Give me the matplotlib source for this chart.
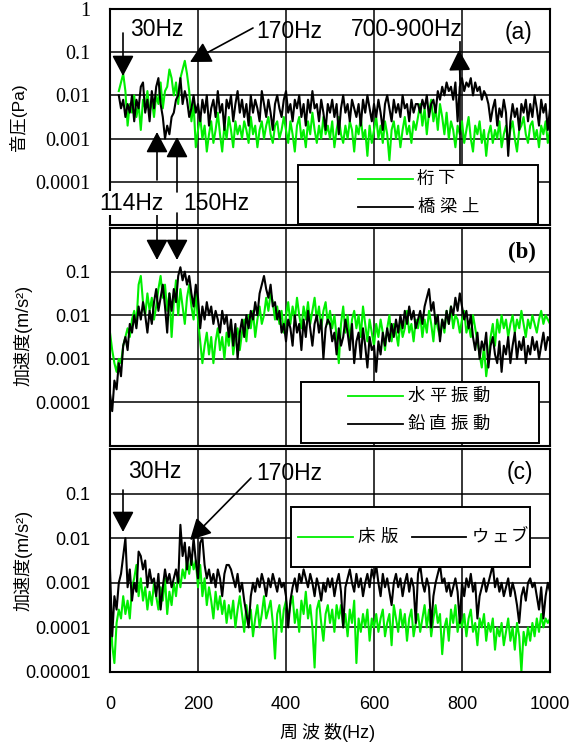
import numpy as np
import matplotlib
matplotlib.use('Agg')
import matplotlib.pyplot as plt
from matplotlib.patches import Rectangle
from matplotlib.lines import Line2D
from matplotlib.text import Annotation
from matplotlib.ticker import NullLocator

plt.rcParams['font.family'] = ['Liberation Sans', 'Noto Sans CJK JP', 'DejaVu Sans']

nan = np.nan
freq = np.arange(0, 1001, 5)

# spectra as log10 values in tenths of a decade (-25 -> 10**-2.5), one every 5 Hz
# (a) sound pressure
a_green = [nan, nan, nan, nan, -19, -17, -15, -19, -27, -22, -24, -20, -25, -22, -28, -21, -23, -19, -24, -21,
           -25, -20, -22, -17, -23, -19, -18, -14, -16, -20, -17, -22, -16, -14, -12, -15, -19, -26, -22, -32,
           -28, -25, -30, -27, -33, -29, -26, -31, -28, -24, -29, -33, -27, -30, -25, -28, -32, -26, -29, -27,
           -30, -26, -28, -31, -25, -29, -27, -32, -28, -26, -30, -27, -25, -29, -31, -27, -26, -30, -28, -25,
           -28, -31, -26, -29, -33, -27, -25, -30, -28, -32, -26, -29, -24, -28, -31, -27, -30, -25, -29, -27,
           -30, -26, -32, -28, -25, -29, -31, -27, -30, -26, -28, -33, -27, -29, -25, -30, -28, -34, -27, -31,
           -28, -25, -30, -27, -31, -26, -29, -35, -28, -26, -30, -27, -32, -28, -25, -29, -27, -31, -26, -28,
           -25, -22, -27, -23, -29, -24, -21, -26, -23, -28, -22, -25, -29, -24, -30, -26, -28, -32, -27, -29,
           -26, -31, -28, -25, -30, -33, -27, -29, -26, -31, -28, -34, -29, -27, -31, -28, -30, -26, -32, -29,
           -27, -31, -28, -26, -30, -33, -28, -27, -25, -29, -31, -27, -26, -30, -28, -32, -27, -29, -26, -31,
           -28]
a_black = [nan, nan, nan, nan, -20, -23, -21, -25, -22, -24, -20, -26, -21, -23, -18, -17, -24, -21, -26, -19,
           -23, -18, -16, -22, -25, -30, -27, -29, -25, -24, -21, -20, -16, -22, -19, -21, -25, -23, -20, -24,
           -22, -26, -21, -24, -20, -27, -23, -21, -25, -19, -24, -22, -28, -21, -23, -20, -26, -22, -19, -24,
           -21, -25, -22, -27, -20, -24, -21, -23, -26, -19, -22, -25, -21, -24, -28, -22, -20, -23, -25, -21,
           -19, -24, -22, -26, -21, -23, -20, -25, -22, -27, -21, -24, -19, -23, -22, -26, -21, -24, -28, -22,
           -24, -21, -25, -22, -29, -23, -20, -24, -22, -26, -21, -23, -25, -22, -27, -21, -24, -20, -23, -26,
           -22, -25, -21, -24, -28, -22, -20, -23, -26, -21, -24, -22, -25, -20, -23, -22, -26, -21, -24, -22,
           -22, -24, -21, -23, -20, -25, -22, -21, -24, -19, -21, -18, -20, -17, -19, -18, -21, -17, -26, -18,
           -16, -19, -17, -18, -16, -20, -17, -19, -18, -21, -19, -20, -22, -26, -23, -21, -27, -23, -25, -21,
           -24, -34, -26, -22, -25, -23, -28, -22, -24, -21, -26, -22, -25, -20, -23, -27, -21, -24, -22, -28,
           -23]
# (b) acceleration, horizontal / vertical
b_green = [-24, -28, -31, -33, -30, -31, -27, -25, -23, -25, -21, -19, -22, -13, -11, -17, -20, -15, -19, -16,
           -21, -18, -14, -11, -16, -13, -19, -15, -25, -17, -12, -20, -14, -18, -22, -16, -13, -18, -21, -15,
           -21, -26, -31, -27, -24, -29, -25, -31, -26, -23, -28, -25, -30, -24, -27, -22, -29, -25, -23, -28,
           -24, -21, -26, -20, -23, -19, -25, -21, -18, -22, -20, -16, -19, -15, -17, -21, -18, -22, -19, -24,
           -20, -17, -22, -18, -21, -16, -20, -23, -18, -21, -17, -22, -19, -16, -21, -18, -23, -19, -17, -22,
           -19, -23, -20, -25, -31, -22, -18, -24, -20, -26, -21, -19, -23, -20, -25, -18, -22, -26, -21, -24,
           -27, -22, -25, -21, -24, -28, -23, -20, -26, -22, -24, -27, -21, -25, -23, -19, -24, -22, -26, -21,
           -23, -20, -25, -21, -24, -19, -22, -26, -20, -23, -25, -21, -24, -19, -22, -18, -23, -20, -21, -24,
           -21, -19, -24, -22, -25, -20, -23, -26, -29, -32, -27, -34, -30, -25, -22, -27, -21, -24, -20, -23,
           -21, -25, -22, -20, -24, -21, -23, -19, -22, -25, -21, -23, -20, -22, -24, -21, -19, -22, -20, -21,
           -22]
b_black = [-38, -42, -35, -37, -31, -34, -27, -25, -28, -22, -24, -20, -23, -18, -21, -17, -20, -24, -19, -22,
           -17, -14, -19, -16, -13, -18, -24, -15, -19, -14, -17, -11, -9, -12, -10, -13, -11, -15, -18, -13,
           -16, -23, -18, -21, -17, -20, -18, -22, -19, -21, -24, -19, -22, -20, -25, -21, -27, -22, -30, -24,
           -21, -25, -20, -23, -19, -21, -17, -20, -15, -13, -11, -14, -16, -13, -18, -17, -21, -19, -24, -22,
           -26, -21, -23, -27, -20, -24, -22, -28, -21, -25, -19, -23, -27, -22, -20, -24, -21, -30, -23, -21,
           -22, -26, -24, -29, -23, -27, -25, -21, -24, -28, -22, -31, -26, -24, -30, -23, -27, -32, -25, -28,
           -27, -33, -26, -29, -24, -27, -23, -26, -22, -25, -21, -24, -20, -23, -19, -22, -18, -21, -19, -23,
           -21, -19, -22, -18, -16, -14, -19, -17, -22, -20, -26, -21, -23, -19, -22, -18, -20, -16, -19, -15,
           -18, -21, -19, -23, -20, -25, -28, -24, -30, -26, -28, -24, -32, -27, -25, -29, -31, -26, -33, -27,
           -29, -25, -31, -27, -24, -30, -26, -28, -25, -31, -27, -29, -25, -28, -26, -30, -27, -24, -28, -25,
           -26]
# (c) acceleration, deck slab / web
c_green = [-32, -44, -48, -39, -36, -38, -33, -37, -34, -38, -31, -29, -26, -33, -29, -34, -31, -36, -32, -35,
           -30, -33, -36, -31, -34, -29, -37, -32, -35, -30, -33, -28, -31, -27, -29, -25, -28, -24, -27, -25,
           -31, -26, -33, -29, -35, -31, -34, -38, -32, -36, -33, -37, -34, -39, -35, -38, -34, -40, -36, -33,
           -37, -41, -35, -39, -36, -42, -38, -35, -40, -37, -33, -38, -36, -34, -39, -47, -37, -35, -41, -36,
           -34, -38, -35, -33, -39, -36, -41, -34, -37, -32, -38, -35, -40, -49, -36, -34, -39, -43, -37, -35,
           -39, -36, -41, -35, -38, -35, -40, -37, -42, -36, -39, -34, -48, -38, -41, -37, -40, -36, -43, -38,
           -40, -37, -41, -38, -36, -42, -39, -37, -44, -35, -38, -41, -36, -40, -37, -43, -38, -36, -42, -39,
           -37, -41, -38, -35, -40, -36, -42, -38, -35, -39, -37, -46, -40, -38, -43, -36, -39, -35, -41, -38,
           -40, -37, -42, -38, -36, -41, -39, -44, -38, -40, -37, -43, -39, -41, -38, -45, -40, -42, -39, -44,
           -41, -38, -43, -40, -45, -39, -42, -50, -41, -44, -40, -43, -39, -42, -38, -41, -37, -40, -38, -39,
           -38]
c_black = [-27, -42, -33, -36, -30, -28, -24, -20, -31, -27, -34, -30, -32, -23, -24, -27, -25, -31, -27, -30,
           -29, -33, -28, -36, -31, -27, -30, -28, -31, -29, -27, -30, -17, -24, -21, -27, -22, -26, -20, -25,
           -29, -21, -20, -26, -29, -27, -30, -28, -31, -27, -29, -33, -28, -26, -26, -27, -29, -31, -28, -32,
           -30, -34, -37, -40, -33, -30, -32, -29, -31, -28, -30, -33, -29, -31, -28, -30, -32, -29, -31, -30,
           -33, -40, -34, -31, -29, -32, -28, -30, -27, -29, -31, -28, -30, -33, -29, -31, -34, -30, -32, -29,
           -31, -29, -33, -30, -28, -32, -40, -31, -29, -27, -30, -32, -28, -31, -29, -33, -30, -28, -31, -27,
           -29, -26, -30, -33, -28, -31, -29, -32, -35, -30, -28, -31, -29, -33, -30, -28, -32, -29, -31, -39,
           -28, -26, -30, -32, -29, -31, -40, -33, -30, -28, -26, -30, -29, -32, -30, -33, -31, -29, -32, -39,
           -30, -33, -29, -31, -28, -32, -30, -38, -33, -31, -29, -32, -30, -28, -26, -31, -29, -32, -30, -33,
           -31, -29, -33, -30, -32, -35, -39, -33, -31, -34, -30, -29, -31, -30, -33, -36, -31, -38, -33, -30,
           -32]

a_ticks = [1, 0.1, 0.01, 0.001, 0.0001]
a_labels = ['1', '0.1', '0.01', '0.001', '0.0001']
b_ticks = [0.1, 0.01, 0.001, 0.0001]
b_labels = ['0.1', '0.01', '0.001', '0.0001']
c_ticks = [0.1, 0.01, 0.001, 0.0001, 0.00001]
c_labels = ['0.1', '0.01', '0.001', '0.0001', '0.00001']
x_ticks = [0, 200, 400, 600, 800, 1000]

GREEN = '#00ee00'
W, H = 572, 744
fig = plt.figure(figsize=(W / 100, H / 100), dpi=100)


def fx(x):
    return x / W


def fy(y):
    return 1 - y / H


panels = [(9, 225), (228, 446), (449, 672)]
axes = [fig.add_axes([fx(110), fy(b), fx(550) - fx(110), (b - t) / H]) for t, b in panels]

series = [(a_green, a_black), (b_green, b_black), (c_green, c_black)]
ticks = [(a_ticks, a_labels), (b_ticks, b_labels), (c_ticks, c_labels)]
for i, ax in enumerate(axes):
    g, k = series[i]
    ax.plot(freq, 10 ** (np.array(g) / 10), color=GREEN, lw=1.5)
    ax.plot(freq, 10 ** (np.array(k) / 10), color='k', lw=1.5)
    ax.set_yscale('log')
    ax.set_ylim(1e-5, 1)
    ax.set_xlim(0, 1000)
    ax.set_yticks(ticks[i][0], ticks[i][1])
    ax.yaxis.set_minor_locator(NullLocator())
    ax.set_xticks(x_ticks, [str(v) for v in x_ticks])
    ax.grid(True, color='k', lw=1.1)
    ax.tick_params(length=0, labelsize=13)
    ax.tick_params(axis='y', pad=14)
    ax.tick_params(axis='x', pad=17, labelbottom=(i == 2))
    for s in ax.spines.values():
        s.set_linewidth(1.5)
for lab in axes[0].get_yticklabels():
    lab.set_fontfamily('Liberation Serif')
    lab.set_fontsize(14.5)


def txt(x, y, s, **kw):
    kw.setdefault('fontsize', 16.5)
    fig.text(fx(x), fy(y), s, ha='center', va='center', zorder=9, **kw)


def chars(x0, y, s, pitch, size=12.5):
    for i, ch in enumerate(s):
        fig.text(fx(x0 + i * pitch), fy(y), ch, ha='center', va='center', fontsize=size, zorder=9)


def arrow(tail, tip):
    fig.add_artist(Annotation('', xy=(fx(tip[0]), fy(tip[1])), xytext=(fx(tail[0]), fy(tail[1])),
                              xycoords='figure fraction', textcoords='figure fraction',
                              arrowprops=dict(arrowstyle='-|>,head_length=0.85,head_width=0.45',
                                              mutation_scale=15, color='k', lw=1.2,
                                              shrinkA=0, shrinkB=0),
                              annotation_clip=False, zorder=8))


def seg(x0, y0, x1, y1, color='k', lw=1.2):
    fig.add_artist(Line2D([fx(x0), fx(x1)], [fy(y0), fy(y1)], transform=fig.transFigure,
                          color=color, lw=lw, zorder=8))


def box(x0, y0, x1, y1):
    fig.add_artist(Rectangle((fx(x0), fy(y1)), fx(x1) - fx(x0), (y1 - y0) / H,
                             transform=fig.transFigure, facecolor='white', edgecolor='k',
                             lw=1.4, zorder=5))


# panel (a) annotations
txt(157, 30, '30Hz')
arrow((123, 33), (123, 76))
txt(289, 31, '170Hz')
arrow((253, 28), (190, 62))
txt(407, 30, '700-900Hz')
seg(460, 165, 460, 42)
arrow((460, 80), (459, 50))
txt(518, 32, '(a)')
arrow((157, 180), (157, 132))
arrow((177, 192), (177, 137))
txt(131, 203, '114Hz', bbox=dict(facecolor='white', edgecolor='none', pad=0.5))
txt(216, 203, '150Hz')
arrow((157, 213), (157, 260))
arrow((177, 213), (177, 260))

# panel (b)
txt(522, 252, '(b)', fontfamily='Liberation Serif', fontweight='bold')

# panel (c)
txt(155, 472, '30Hz')
arrow((123, 490), (123, 532))
txt(289, 474, '170Hz')
arrow((251, 478), (190, 540))
txt(520, 472, '(c)')

# legends
box(298, 165, 538, 224)
seg(358, 179, 413, 179, GREEN, 1.3)
chars(425, 179, '桁下', 22)
seg(358, 207, 413, 207, 'k', 1.3)
chars(426, 207, '橋梁上', 22)

box(301, 382, 539, 443)
seg(348, 396, 403, 396, GREEN, 1.3)
chars(416, 396, '水平振動', 21.5)
seg(348, 424, 403, 424, 'k', 1.3)
chars(416, 424, '鉛直振動', 21.5)

box(291, 507, 530, 567)
seg(298, 537, 353, 537, GREEN, 1.3)
chars(366, 537, '床版', 23)
seg(412, 537, 466, 537, 'k', 1.3)
chars(480, 537, 'ウェブ', 19.5)

# axis titles
fig.text(fx(18), fy(117), '音圧(Pa)', rotation=90, ha='center', va='center', fontsize=12.5)
fig.text(fx(23), fy(335), '加速度(m/s²)', rotation=90, ha='center', va='center', fontsize=13)
fig.text(fx(23), fy(560), '加速度(m/s²)', rotation=90, ha='center', va='center', fontsize=13)
chars(288, 733, '周波数', 22, 13)
fig.text(fx(342), fy(733), '(Hz)', ha='left', va='center', fontsize=13)

fig.savefig('out.png', dpi=100)
